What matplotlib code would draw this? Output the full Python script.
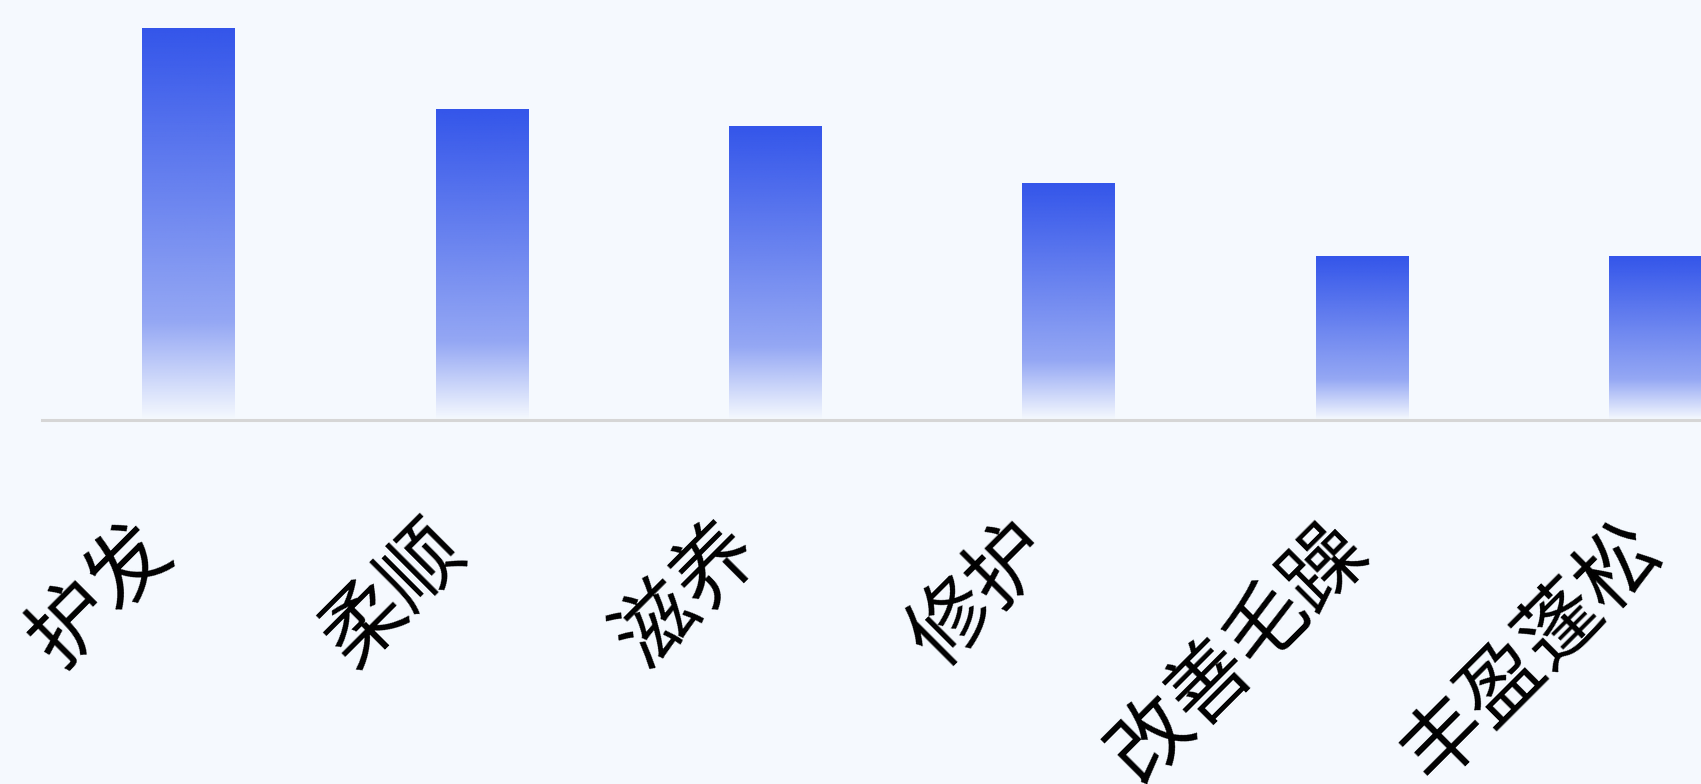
import numpy as np
import matplotlib
matplotlib.use('Agg')
import matplotlib.pyplot as plt
from matplotlib.transforms import ScaledTranslation

plt.rcParams['font.family'] = ['Noto Sans CJK SC', 'DejaVu Sans']

categories = ['护发', '柔顺', '滋养', '修护', '改善毛躁', '丰盈蓬松']
values = [48, 38, 36, 29, 20, 20]

bg = '#f5f9fe'
bar_rgb = np.array([51, 85, 234]) / 255.0
bar_width = 0.317

fig = plt.figure(figsize=(17.01, 7.84), dpi=100, facecolor=bg)
ax = fig.add_axes([42 / 1701, 364 / 784, 1760 / 1701, 408 / 784])
ax.set_facecolor(bg)

# vertical gradient: solid at the top, fading out at the bottom
t = np.linspace(0, 1, 256)
alpha = np.interp(t, [0, 0.75, 1.0], [1.0, 0.5, 0.0])
grad = np.zeros((256, 1, 4))
grad[:, 0, :3] = bar_rgb
grad[:, 0, 3] = alpha

x = np.arange(len(categories))
bars = ax.bar(x, values, bar_width, color='none', edgecolor='none')
for b in bars:
    x0 = b.get_x()
    ax.imshow(grad, extent=[x0, x0 + b.get_width(), 0, b.get_height()],
              aspect='auto', origin='upper', interpolation='bilinear', zorder=2)

ax.set_xlim(-0.5, 5.5)
ax.set_ylim(0, 50)

for s in ['top', 'right', 'left']:
    ax.spines[s].set_visible(False)
ax.spines['bottom'].set_color('#d6d6d6')
ax.spines['bottom'].set_linewidth(2.2)
ax.spines['bottom'].set_zorder(3)
ax.set_yticks([])

ax.set_xticks(x)
ax.set_xticklabels(categories, rotation=45, ha='right', va='center',
                   rotation_mode='anchor', fontsize=59, color='#000000')
ax.tick_params(axis='x', length=0, pad=84)
# longer labels sit a little further right
for lab, name in zip(ax.get_xticklabels(), categories):
    dx = (-30 + 11.5 * (len(name) - 2)) / 100
    lab.set_transform(lab.get_transform() + ScaledTranslation(dx, 0, fig.dpi_scale_trans))

fig.savefig('out.png', dpi=100, facecolor=bg)
